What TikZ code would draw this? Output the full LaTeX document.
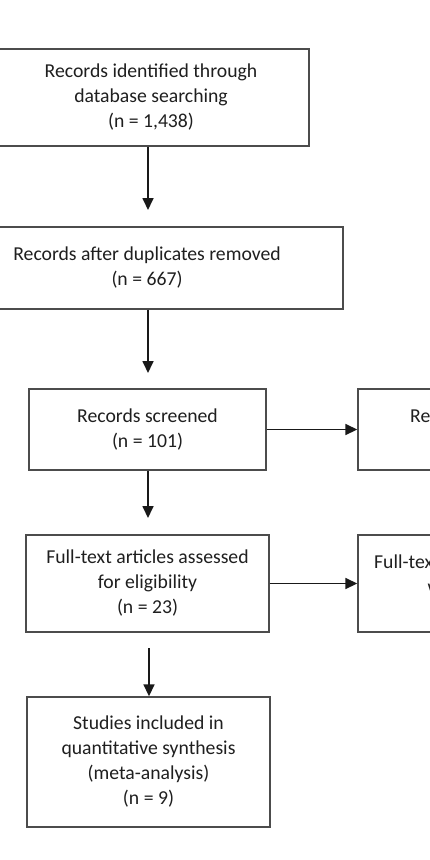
\documentclass[tikz,border=0pt]{standalone}
\usepackage{fontspec}
\setmainfont{Carlito}
\usetikzlibrary{arrows.meta}
\begin{document}
\begin{tikzpicture}[x=1pt,y=-1pt,
  txt/.style={font=\fontsize{19.7}{25}\selectfont, text=black!88},
  box/.style={txt, draw=black!70, line width=1.4pt, rectangle, align=center, inner sep=0pt},
  lbl/.style={txt, inner sep=0pt, anchor=base west},
  arr/.style={draw=black!90, line width=1.7pt, -{Triangle[width=11pt,length=12pt]}}]
\useasboundingbox (0,0) rectangle (430,860);
\fill[white] (0,0) rectangle (430,860);
\clip (0,0) rectangle (430,860);

\node[box, minimum width=316pt, minimum height=97pt] (b1) at (151,97.5)
  {Records identified through\\database searching\\(n = 1,438)};
\node[box, minimum width=392pt, minimum height=82pt] (b2) at (147,268)
  {Records after duplicates removed\\(n = 667)};
\node[box, minimum width=237pt, minimum height=81pt] (b3) at (147.5,429.5)
  {Records screened\\(n = 101)};
\node[box, minimum width=243pt, minimum height=97pt] (b4) at (147.5,583.5)
  {Full-text articles assessed\\for eligibility\\(n = 23)};
\node[box, minimum width=243pt, minimum height=130pt] (b5) at (148.5,762)
  {Studies included in\\quantitative synthesis\\(meta-analysis)\\(n = 9)};
\node[box, minimum width=242pt, minimum height=81pt] (r1) at (479,429.5) {};
\node[box, minimum width=242pt, minimum height=97pt] (r2) at (479,583.5) {};

\node[lbl] (r1a) at (410,422.5) {Re};
\node[lbl] (r2a) at (374,568) {Full-tex};
\node[lbl] (r2b) at (427.5,593) {w};

\coordinate (t1) at (148,210);
\draw[arr] (b1.south -| t1) -- (t1);
\coordinate (t2) at (148,373);
\draw[arr] (b2.south -| t2) -- (t2);
\coordinate (t3) at (148,518);
\draw[arr] (b3.south -| t3) -- (t3);
\coordinate (s4) at (149,648);
\draw[arr] (s4) -- (s4 |- b5.north);
\draw[arr] (b3.east) -- (r1.west);
\draw[arr] (b4.east) -- (r2.west);
\end{tikzpicture}
\end{document}
